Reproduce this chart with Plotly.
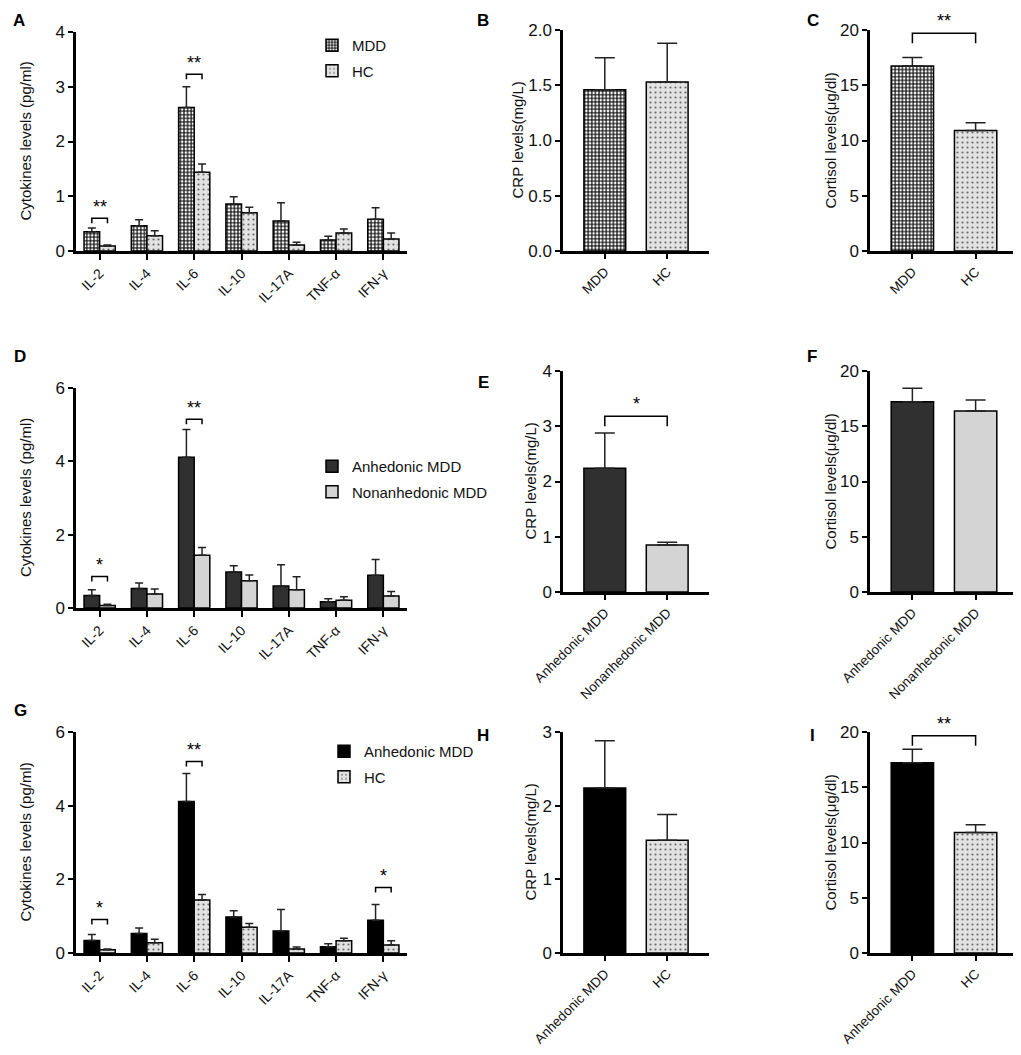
import plotly.graph_objects as go

W, H = 1021, 1055
OFF = 8  # browser body margin
FW, FH = W - OFF, H - 2 * OFF
FONT = "Liberation Sans, Arial, sans-serif"

# ---- data (means and SEM) ----
cytokines = ["IL-2", "IL-4", "IL-6", "IL-10", "IL-17A", "TNF-α", "IFN-γ"]
mdd_cyt = [0.35, 0.46, 2.62, 0.86, 0.55, 0.20, 0.58]
mdd_cyt_sem = [0.07, 0.11, 0.38, 0.13, 0.33, 0.07, 0.21]
hc_cyt = [0.09, 0.28, 1.44, 0.70, 0.11, 0.33, 0.22]
hc_cyt_sem = [0.02, 0.09, 0.15, 0.10, 0.05, 0.07, 0.11]
anh_cyt = [0.34, 0.53, 4.11, 0.98, 0.60, 0.17, 0.89]
anh_cyt_sem = [0.16, 0.15, 0.76, 0.17, 0.58, 0.08, 0.43]
non_cyt = [0.07, 0.38, 1.44, 0.74, 0.50, 0.21, 0.33]
non_cyt_sem = [0.03, 0.14, 0.21, 0.16, 0.35, 0.10, 0.12]

groups_BC = ["MDD", "HC"]
crp_B = [1.46, 1.53]
crp_B_sem = [0.29, 0.35]
cort_C = [16.74, 10.90]
cort_C_sem = [0.78, 0.70]

groups_EF = ["Anhedonic MDD", "Nonanhedonic MDD"]
crp_E = [2.24, 0.85]
crp_E_sem = [0.64, 0.05]
cort_F = [17.22, 16.38]
cort_F_sem = [1.21, 0.99]

groups_HI = ["Anhedonic MDD", "HC"]
crp_H = [2.24, 1.53]
crp_H_sem = [0.64, 0.35]
cort_I = [17.22, 10.90]
cort_I_sem = [1.21, 0.70]

# significance marks: (category index, bracket level, label)
sig_A = [(0, 0.60, "**"), (2, 3.23, "**")]
sig_D = [(0, 0.86, "*"), (2, 5.15, "**")]
sig_G = [(0, 0.91, "*"), (2, 5.20, "**"), (6, 1.78, "*")]
sig_C = [(19.7, "**")]
sig_E = [(3.18, "*")]
sig_I = [(19.66, "**")]

# ---- styles ----
MDD = dict(color="#2a2a2a", pattern=dict(shape=".", fgcolor="#ffffff", bgcolor="#2a2a2a",
                                         size=3.6, solidity=0.38, fillmode="replace"))
HC = dict(color="#e2e2e2", pattern=dict(shape=".", fgcolor="#6a6a6a", bgcolor="#e2e2e2",
                                        size=5, solidity=0.15, fillmode="replace"))
ANH_D = dict(color="#303030")
NON = dict(color="#d4d4d4")
ANH_G = dict(color="#000000")


def marker(style):
    m = dict(style)
    m["line"] = dict(color="black", width=1.5)
    return m


def err(sem, w):
    return dict(type="data", array=sem, arrayminus=[0] * len(sem), symmetric=False,
                color="#222", thickness=1.5, width=w)


# reference pixel -> paper fraction
def px(x):
    return (x - OFF) / FW


def py(y):
    return 1 - (y - OFF) / FH


fig = go.Figure()
layout = {}
annotations = []
shapes = []

axis_common = dict(showline=True, linecolor="black", linewidth=2.5, ticks="outside",
                   tickcolor="black", tickwidth=2, showgrid=False, zeroline=False,
                   automargin=False, fixedrange=True,
                   tickfont=dict(family=FONT, size=17, color="#111"))
xtickfont = dict(family=FONT, size=14, color="#111")
xtickfont_long = dict(family=FONT, size=13.5, color="#111")
titlefont = dict(family=FONT, size=15, color="#111")


def paper_text(text, x, y, font, angle=0):
    return dict(x=px(x), y=py(y), xref="paper", yref="paper", text=text, textangle=angle,
                showarrow=False, xanchor="center", yanchor="middle", font=font)


letterfont = dict(family=FONT, size=17, color="black")

cyt_panels = [
    ("A", 1, 32, 251, 4, 1, mdd_cyt, mdd_cyt_sem, "MDD", MDD, hc_cyt, hc_cyt_sem, "HC", HC, sig_A,
     "legend", 312, 29, (19, 21)),
    ("D", 4, 388, 608, 6, 2, anh_cyt, anh_cyt_sem, "Anhedonic MDD", ANH_D, non_cyt, non_cyt_sem,
     "Nonanhedonic MDD", NON, sig_D, "legend2", 312, 450, (20, 356)),
    ("G", 7, 732, 953, 6, 2, anh_cyt, anh_cyt_sem, "Anhedonic MDD", ANH_G, hc_cyt, hc_cyt_sem,
     "HC", HC, sig_G, "legend3", 324, 735, (20, 710)),
]

for (letter, n, ytop, ybot, ymax, dtick, v1, e1, n1, s1, v2, e2, n2, s2, sig,
     leg, legx, legy, lpos) in cyt_panels:
    xa = "x" if n == 1 else f"x{n}"
    ya = "y" if n == 1 else f"y{n}"
    idx = list(range(len(cytokines)))
    fig.add_trace(go.Bar(x=idx, y=v1, name=n1, xaxis=xa, yaxis=ya, offsetgroup="a",
                         marker=marker(s1), error_y=err(e1, 4),
                         legend=leg, legendgroup=n1 + leg))
    fig.add_trace(go.Bar(x=idx, y=v2, name=n2, xaxis=xa, yaxis=ya, offsetgroup="b",
                         marker=marker(s2), error_y=err(e2, 4),
                         legend=leg, legendgroup=n2 + leg))
    layout[f"xaxis{n}" if n > 1 else "xaxis"] = dict(
        axis_common, domain=[px(76), px(407)], anchor=ya, range=[-0.5, 6.5],
        tickvals=idx, ticktext=cytokines, tickangle=-45, ticklen=6, tickfont=xtickfont)
    layout[f"yaxis{n}" if n > 1 else "yaxis"] = dict(
        axis_common, domain=[py(ybot), py(ytop)], anchor=xa, range=[0, ymax], dtick=dtick,
        ticklen=5)
    layout[leg] = dict(x=px(legx), y=py(legy), xanchor="left", yanchor="top",
                       bgcolor="rgba(0,0,0,0)", traceorder="grouped", tracegroupgap=3,
                       font=dict(family=FONT, size=15, color="#111"))
    leg_h = ymax * 5 / 220
    for i, lvl, lab in sig:
        xl, xr = i - 0.165, i + 0.165
        shapes.append(dict(type="path", xref=xa, yref=ya,
                           path=f"M{xl},{lvl - leg_h} L{xl},{lvl} L{xr},{lvl} L{xr},{lvl - leg_h}",
                           line=dict(color="black", width=1.5)))
        annotations.append(dict(x=i, y=lvl, xref=xa, yref=ya, text=lab, showarrow=False,
                                xanchor="center", yanchor="bottom", yshift=-1,
                                font=dict(family=FONT, size=18, color="black")))
    annotations.append(paper_text("Cytokines levels (pg/ml)", 25, (ytop + ybot) / 2,
                                  titlefont, -90))
    annotations.append(paper_text(f"<b>{letter}</b>", lpos[0], lpos[1], letterfont))

two_panels = [
    ("B", 2, 563, 709, 30, 251, 2.0, 0.5, ".1f", groups_BC, crp_B, crp_B_sem, [MDD, HC], [],
     "CRP levels(mg/L)", 517, (483, 21)),
    ("C", 3, 870, 1018, 30, 251, 20, 5, "d", groups_BC, cort_C, cort_C_sem, [MDD, HC], sig_C,
     "Cortisol levels(μg/dl)", 830, (813, 21)),
    ("E", 5, 563, 709, 371, 592, 4, 1, "d", groups_EF, crp_E, crp_E_sem, [ANH_D, NON], sig_E,
     "CRP levels(mg/L)", 530, (483, 382)),
    ("F", 6, 870, 1018, 371, 592, 20, 5, "d", groups_EF, cort_F, cort_F_sem, [ANH_D, NON], [],
     "Cortisol levels(μg/dl)", 830, (812, 356)),
    ("H", 8, 563, 709, 732, 953, 3, 1, "d", groups_HI, crp_H, crp_H_sem, [ANH_G, HC], [],
     "CRP levels(mg/L)", 530, (483, 735)),
    ("I", 9, 870, 1018, 732, 953, 20, 5, "d", groups_HI, cort_I, cort_I_sem, [ANH_G, HC], sig_I,
     "Cortisol levels(μg/dl)", 830, (812, 735)),
]

for (letter, n, x0, x1, ytop, ybot, ymax, dtick, fmt, cats, vals, sems, styles, sig,
     title, tx, lpos) in two_panels:
    xa, ya = f"x{n}", f"y{n}"
    for k in range(len(vals)):
        fig.add_trace(go.Bar(x=[k], y=[vals[k]], xaxis=xa, yaxis=ya, width=0.67, offset=-0.335,
                             marker=marker(styles[k]), error_y=err([sems[k]], 10),
                             showlegend=False))
    layout[f"xaxis{n}"] = dict(
        axis_common, domain=[px(x0), px(x1)], anchor=ya, range=[-0.67, 1.67],
        tickvals=list(range(len(cats))), ticktext=cats, tickangle=-45, ticklen=5,
        tickfont=xtickfont_long)
    layout[f"yaxis{n}"] = dict(
        axis_common, domain=[py(ybot), py(ytop)], anchor=xa, range=[0, ymax], dtick=dtick,
        tickformat=fmt, ticklen=5)
    leg_h = ymax * 10 / 220
    for lvl, lab in sig:
        shapes.append(dict(type="path", xref=xa, yref=ya,
                           path=f"M0,{lvl - leg_h} L0,{lvl} L1,{lvl} L1,{lvl - leg_h}",
                           line=dict(color="black", width=1.5)))
        annotations.append(dict(x=0.5, y=lvl, xref=xa, yref=ya, text=lab, showarrow=False,
                                xanchor="center", yanchor="bottom", yshift=0,
                                font=dict(family=FONT, size=18, color="black")))
    annotations.append(paper_text(title, tx, (ytop + ybot) / 2, titlefont, -90))
    annotations.append(paper_text(f"<b>{letter}</b>", lpos[0], lpos[1], letterfont))

fig.update_layout(**layout)
fig.update_layout(
    width=FW, height=FH, margin=dict(l=0, r=0, t=0, b=0),
    barmode="group", bargap=0.34, bargroupgap=0,
    plot_bgcolor="white", paper_bgcolor="white",
    font=dict(family=FONT, color="#111"),
    annotations=annotations, shapes=shapes,
)

fig.write_html("out.html")
